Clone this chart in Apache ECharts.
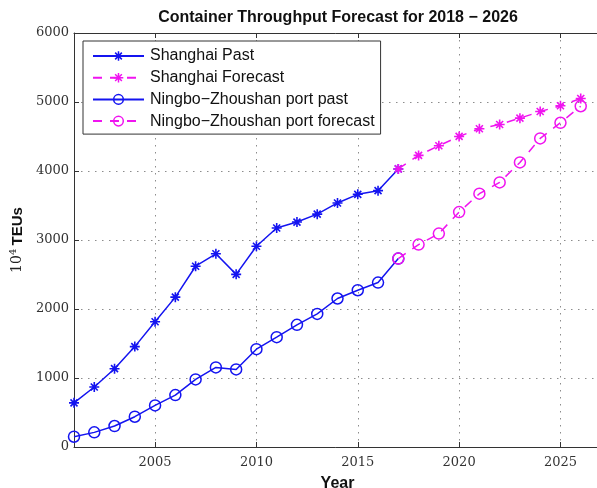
<!DOCTYPE html>
<html>
<head>
<meta charset="utf-8">
<script src="https://cdn.jsdelivr.net/npm/echarts@6/dist/echarts.min.js"></script>
<style>
  html, body { margin: 0; padding: 0; background: #fff; }
  #chart { width: 597px; height: 488px; }
</style>
</head>
<body>
<div id="chart"></div>
<script>
// x categories (last one only pads the axis out past the picture edge)
const years = ['2001','2002','2003','2004','2005','2006','2007','2008','2009','2010',
               '2011','2012','2013','2014','2015','2016','2017','2018','2019','2020',
               '2021','2022','2023','2024','2025','2026','2027'];

// 2001 - 2017
const shanghaiPast = [640, 870, 1135, 1455, 1815, 2172, 2620, 2800, 2502, 2910,
                      3174, 3260, 3375, 3537, 3662, 3715, 4030];
const ningboPast   = [149, 212, 304, 439, 603, 752, 979, 1153, 1124, 1418,
                      1592, 1770, 1929, 2152, 2272, 2383, 2731];

// 2017 - 2026
const shanghaiForecast = [4030, 4226, 4366, 4501, 4612, 4674, 4766, 4862, 4945, 5051];
const ningboForecast   = [2731, 2933, 3093, 3405, 3671, 3835, 4124, 4472, 4699, 4939];

const yTicks = { min: 0, max: 6000, step: 1000 };

const BLUE = '#1414f0';
const MAGENTA = '#f014f0';
const CLEAR = 'rgba(0,0,0,0)';
const STAR = 'path://M0,-10L0,10M-10,0L10,0M-7,-7L7,7M-7,7L7,-7';

// forecast starts at 2017, pad the years before with null
function padForecast(values) {
    const out = [];
    const start = years.indexOf('2017');
    for (let i = 0; i < start; i++) out.push(null);
    return out.concat(values);
}

function everyFive(index, value) {
    return Number(value) % 5 === 0;
}

const dotted = { color: '#8c8c8c', width: 1, type: [1.5, 5.5] };
const axisLine = { show: true, lineStyle: { color: '#333', width: 1 } };
const tickFont = { fontFamily: 'DejaVu Serif', fontSize: 13, color: '#333' };
const SANS = '"Liberation Sans", Arial, sans-serif';

const chart = echarts.init(document.getElementById('chart'), null, { renderer: 'canvas' });

const option = {
    animation: false,
    backgroundColor: '#fff',
    graphic: [{
        type: 'text',
        x: 338, y: 18,
        style: {
            text: 'Container Throughput Forecast for 2018 \u2212 2026',
            font: 'bold 16px ' + SANS,
            fill: '#111',
            align: 'center',
            verticalAlign: 'middle'
        }
    }],
    grid: { left: 74, right: -4, top: 33, bottom: 41, containLabel: false, outerBoundsMode: 'none' },
    legend: {
        orient: 'vertical',
        left: 83, top: 41,
        padding: [7, 6, 5, 9],
        backgroundColor: '#fff',
        borderColor: '#333',
        borderWidth: 1,
        itemWidth: 51,
        itemHeight: 12,
        itemGap: 5.7,
        itemStyle: { borderWidth: 1.5 },
        textStyle: { fontFamily: SANS, fontSize: 16, color: '#111', lineHeight: 14, padding: [0, 0, 0, 1] },
        data: ['Shanghai Past', 'Shanghai Forecast', 'Ningbo\u2212Zhoushan port past', 'Ningbo\u2212Zhoushan port forecast']
    },
    xAxis: [{
        type: 'category',
        data: years,
        boundaryGap: false,
        name: 'Year',
        nameLocation: 'middle',
        nameGap: 29,
        nameTextStyle: { fontFamily: SANS, fontWeight: 'bold', fontSize: 16, color: '#111' },
        axisLine: axisLine,
        axisTick: { show: true, inside: true, length: 5, interval: everyFive, lineStyle: { color: '#333' } },
        axisLabel: Object.assign({ interval: everyFive, margin: 9 }, tickFont),
        splitLine: { show: true, interval: everyFive, lineStyle: dotted }
    }, {
        type: 'category',
        data: years,
        boundaryGap: false,
        position: 'top',
        axisLine: axisLine,
        axisTick: { show: true, inside: true, length: 5, interval: everyFive, lineStyle: { color: '#333' } },
        axisLabel: { show: false },
        splitLine: { show: false }
    }],
    yAxis: {
        type: 'value',
        min: yTicks.min, max: yTicks.max, interval: yTicks.step,
        name: '{n|10}{s|4} {b|TEUs}',
        nameLocation: 'middle',
        nameRotate: 90,
        nameGap: 37,
        nameTextStyle: {
            rich: {
                n: { fontFamily: 'DejaVu Serif', fontSize: 14, color: '#222' },
                s: { fontFamily: 'DejaVu Serif', fontSize: 10, color: '#222', verticalAlign: 'top', padding: [0, 0, 8, 0] },
                b: { fontFamily: SANS, fontWeight: 'bold', fontSize: 15, color: '#111' }
            }
        },
        axisLine: axisLine,
        axisTick: { show: true, inside: true, length: 5, lineStyle: { color: '#333' } },
        axisLabel: Object.assign({ margin: 5, formatter: function (v) { return String(v); } }, tickFont),
        splitLine: { show: true, lineStyle: dotted }
    },
    series: [{
        name: 'Shanghai Past',
        type: 'line',
        data: shanghaiPast,
        symbol: STAR,
        symbolSize: 10,
        lineStyle: { color: BLUE, width: 1.5 },
        itemStyle: { color: BLUE, borderColor: BLUE, borderWidth: 1.6 },
        z: 2
    }, {
        name: 'Ningbo\u2212Zhoushan port past',
        type: 'line',
        data: ningboPast,
        symbol: 'circle',
        symbolSize: 11,
        lineStyle: { color: BLUE, width: 1.5 },
        itemStyle: { color: CLEAR, borderColor: BLUE, borderWidth: 1.5 },
        z: 2
    }, {
        name: 'Shanghai Forecast',
        type: 'line',
        data: padForecast(shanghaiForecast),
        symbol: STAR,
        symbolSize: 10,
        lineStyle: { color: MAGENTA, width: 1.5, type: [9, 8] },
        itemStyle: { color: MAGENTA, borderColor: MAGENTA, borderWidth: 1.6 },
        z: 3
    }, {
        name: 'Ningbo\u2212Zhoushan port forecast',
        type: 'line',
        data: padForecast(ningboForecast),
        symbol: 'circle',
        symbolSize: 11,
        lineStyle: { color: MAGENTA, width: 1.5, type: [9, 8] },
        itemStyle: { color: CLEAR, borderColor: MAGENTA, borderWidth: 1.5 },
        z: 3
    }]
};

chart.setOption(option);
</script>
</body>
</html>
